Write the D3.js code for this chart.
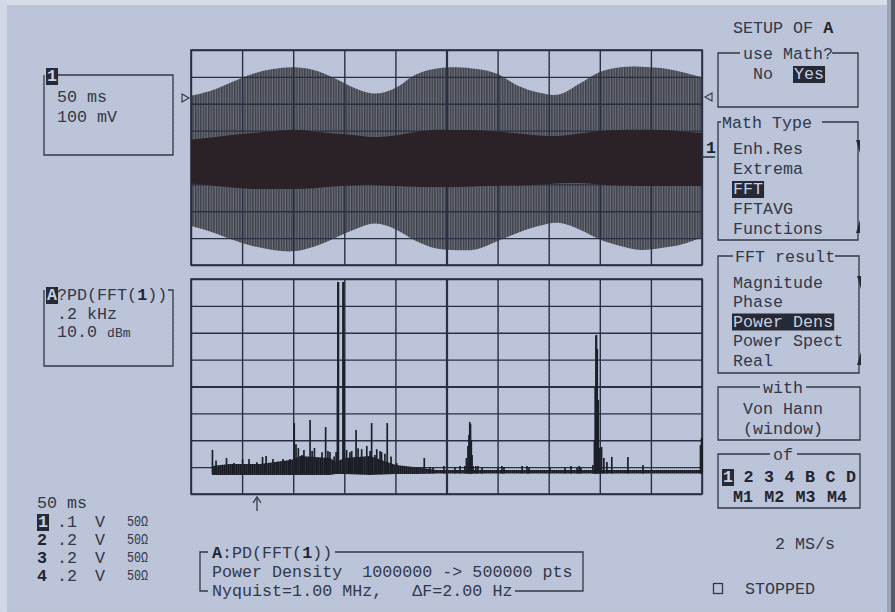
<!DOCTYPE html>
<html>
<head>
<meta charset="utf-8">
<script src="https://cdn.jsdelivr.net/npm/d3@7/dist/d3.min.js"></script>
<style>
html,body{margin:0;padding:0;background:#b9c2d6;}
svg{display:block;}
text{font-family:'Liberation Mono','DejaVu Sans Mono',monospace;white-space:pre;}
</style>
</head>
<body>
<svg id="chart" width="895" height="612"></svg>
<script>
// ---------------- DATA ----------------
// upper trace (channel 1, 50 ms/div, 100 mV/div): envelope of the AM signal
const timeMs      = [0,20,40,60,80,100,120,140,160,180,200,220,240,260,280,300,320,340,360,380,400,420,440,460,480,500];
const envTopMv    = [229,249,281,311,329,336,326,296,259,238,259,309,331,336,329,311,267,242,234,274,318,336,338,333,318,298];
const envBottomMv = [-255,-277,-305,-329,-344,-349,-332,-301,-268,-246,-267,-311,-339,-345,-341,-311,-280,-255,-243,-268,-305,-329,-344,-337,-324,-298];
const coreTopMv   = [66,74,84,91,98,103,97,89,83,76,82,95,103,102,101,97,89,82,80,89,99,102,103,102,97,91];
const coreBottomMv= [-98,-104,-112,-117,-117,-117,-114,-108,-103,-102,-106,-109,-110,-110,-107,-105,-104,-101,-96,-95,-100,-104,-106,-106,-106,-106];

// lower trace: power density of FFT(1) (0.2 kHz/div, 10 dBm/div)
// noise floor band: [frequency Hz, low dBm, high dBm]
const noiseBand = [
 [82,-72.9,-69.6],[150,-72.9,-68.8],[270,-72.9,-68.8],[395,-72.9,-67.3],[427,-72.9,-65.9],[544,-72.9,-66.6],
 [568,-72.6,-68.1],[599,-72.6,-66.6],[701,-72.9,-65.9],[802,-72.6,-69.2],[881,-72.6,-70.0],[963,-72.4,-71.1],[2000,-72.4,-71.1]
];
// spectral lines: [frequency Hz, peak dBm]
const fftPeaks = [
 [84,-63.6],[98,-67.5],[139,-66.6],[168,-68.5],[202,-67.0],[227,-67.0],[258,-68.2],[280,-66.2],[294,-65.9],[321,-67.0],[341,-68.0],[360,-67.0],[387,-67.0],
 [404,-53.6],[411,-61.5],[420,-62.9],[434,-65.5],[442,-63.6],[458,-66.6],[466,-52.5],[474,-64.0],[483,-62.9],[498,-66.6],[513,-64.5],[527,-55.1],[536,-64.0],[544,-64.4],[560,-66.0],[568,-64.4],
 [573,-40.0],[575,-1.1],[577,-1.1],[595,-1.1],[597,-1.1],[599,-30.0],
 [609,-63.6],[622,-64.5],[629,-64.0],[646,-56.2],[654,-63.0],[661,-66.6],[668,-63.3],[688,-62.1],[701,-64.0],[707,-53.6],[720,-65.5],[727,-63.3],[740,-64.0],[746,-64.4],[759,-65.0],[768,-53.6],[783,-66.0],[805,-68.5],[913,-66.6],
 [935,-70.0],[947,-70.0],[990,-69.6],[1033,-70.0],[1053,-69.6],
 [1072,-69.6],[1078,-66.6],[1084,-62.1],[1088,-58.0],[1091,-53.2],[1094,-54.0],[1097,-59.9],[1100,-65.5],[1104,-69.6],
 [1115,-69.6],[1123,-69.6],[1139,-70.0],[1202,-70.0],[1217,-69.6],[1225,-70.0],[1296,-69.6],[1315,-69.6],[1323,-70.0],[1405,-70.0],[1464,-70.0],[1487,-69.6],[1511,-70.0],[1519,-69.6],[1526,-70.0],
 [1573,-69.2],[1579,-59.9],[1582,-40.0],[1585,-21.0],[1587,-20.8],[1590,-26.0],[1594,-45.0],[1599,-62.9],[1607,-62.5],[1616,-66.6],[1628,-68.1],[1647,-66.2],[1710,-66.2],[1769,-69.2],
 [1994,-61.8],[1998,-59.2],[2000,-59.2]
];
const fftBaseDbm = -72.4;

// scale settings / labels
const ch1Scale   = ["50 ms", "100 mV"];
const mathScale  = [".2 kHz", "10.0 "];
const chanIds    = ["1","2","3","4"];
const chanVolts  = [".1",".2",".2",".2"];
const mathTypes  = ["Enh.Res","Extrema","FFT","FFTAVG","Functions"];
const fftResults = ["Magnitude","Phase","Power Dens","Power Spect","Real"];
const sourcesRow1 = ["1","2","3","4","B","C","D"];
const sourcesRow2 = ["M1","M2","M3","M4"];

// ---------------- DRAW ----------------
const BG="#b9c2d6", INK="#323849", GRID="#293044", INV="#262a36", DARK="#222633";
const FS=16.7, CW=FS*0.6;
const svg=d3.select("#chart");
const defs=svg.append("defs");

const hatch=defs.append("pattern").attr("id","hatch").attr("patternUnits","userSpaceOnUse").attr("width",4).attr("height",4);
hatch.append("path").attr("d","M-1,1 l2,-2 M0,4 l4,-4 M3,5 l2,-2").attr("stroke","#c7cedf").attr("stroke-width",0.8).attr("opacity",0.7);
const stripes=defs.append("pattern").attr("id","stripes").attr("patternUnits","userSpaceOnUse").attr("width",2.6).attr("height",10);
stripes.append("rect").attr("width",2.6).attr("height",10).attr("fill","#6d707b");
stripes.append("rect").attr("width",1.4).attr("height",10).attr("fill","#3d3f48");
const hair=defs.append("pattern").attr("id","hair").attr("patternUnits","userSpaceOnUse").attr("width",2).attr("height",10);
hair.append("rect").attr("width",2).attr("height",10).attr("fill","#3a3e4b");
hair.append("rect").attr("width",1.4).attr("height",10).attr("fill","#181b23");

svg.append("rect").attr("width",895).attr("height",612).attr("fill",BG);
svg.append("rect").attr("width",895).attr("height",612).attr("fill","url(#hatch)");
svg.append("rect").attr("width",895).attr("height",5).attr("fill","#d6dce8");
svg.append("rect").attr("width",7).attr("height",612).attr("fill","#d2d8e5");
svg.append("rect").attr("x",887).attr("width",4).attr("height",612).attr("fill","#9ca4b6");
svg.append("rect").attr("x",891).attr("width",4).attr("height",612).attr("fill","#555a69");

function txt(x,y,s,o={}){
  const t=svg.append("text").attr("x",x).attr("y",y).attr("font-size",o.size||FS)
    .attr("font-weight",o.bold?"bold":null).attr("fill",o.fill||INK)
    .attr("text-anchor",o.anchor||"start").text(s);
  if(o.len) t.attr("textLength",o.len).attr("lengthAdjust","spacingAndGlyphs");
  return t;
}
function inv(x,y,s,o={}){
  svg.append("rect").attr("x",x-1).attr("y",y-13).attr("width",s.length*CW+2).attr("height",17).attr("fill",INV);
  return txt(x,y,s,Object.assign({fill:"#c9d0e0"},o));
}
function line(pts,w){
  svg.append("path").attr("d",d3.line()(pts)).attr("fill","none").attr("stroke",INK).attr("stroke-width",w||1.3);
}

// scales
const xT=d3.scaleLinear().domain([0,500]).range([191,702]);
const yV=d3.scaleLinear().domain([-400,400]).range([265,50]);
const xF=d3.scaleLinear().domain([0,2000]).range([191,702]);
const yP=d3.scaleLinear().domain([-80,0]).range([494,279]);

function drawGrid(x,y,xStep,yStep){
  const g=svg.append("g");
  const [y0,y1]=y.range(),[x0,x1]=x.range(),xd=x.domain(),yd=y.domain();
  const xt=d3.range(xd[0],xd[1]+xStep/2,xStep), yt=d3.range(yd[0],yd[1]+yStep/2,yStep);
  const xm=(xd[0]+xd[1])/2, ym=(yd[0]+yd[1])/2;
  g.append("g").attr("transform",`translate(0,${y0})`)
    .call(d3.axisBottom(x).tickValues(xt).tickSize(-(y0-y1)).tickSizeOuter(0).tickFormat(""))
    .call(a=>a.select(".domain").remove())
    .selectAll(".tick line").attr("stroke",GRID).attr("stroke-width",d=>Math.abs(d-xm)<1e-9?2.2:1.4);
  g.append("g").attr("transform",`translate(${x0},0)`)
    .call(d3.axisLeft(y).tickValues(yt).tickSize(-(x1-x0)).tickSizeOuter(0).tickFormat(""))
    .call(a=>a.select(".domain").remove())
    .selectAll(".tick line").attr("stroke",GRID).attr("stroke-width",d=>Math.abs(d-ym)<1e-9?2.2:1.4);
  g.append("rect").attr("x",x0).attr("y",y1).attr("width",x1-x0).attr("height",y0-y1)
    .attr("fill","none").attr("stroke",GRID).attr("stroke-width",1.6);
}

// upper waveform
const env=timeMs.map((t,i)=>({t,hi:envTopMv[i],lo:envBottomMv[i],ch:coreTopMv[i],cl:coreBottomMv[i]}));
svg.append("path").datum(env).attr("fill","url(#stripes)")
  .attr("d",d3.area().curve(d3.curveCatmullRom).x(d=>xT(d.t)).y0(d=>yV(d.lo)).y1(d=>yV(d.hi)));
drawGrid(xT,yV,50,100);
svg.append("path").datum(env).attr("fill","#2a2226")
  .attr("d",d3.area().curve(d3.curveCatmullRom).x(d=>xT(d.t)).y0(d=>yV(d.cl)).y1(d=>yV(d.ch)));

// lower FFT
drawGrid(xF,yP,200,10);
svg.append("path").datum(noiseBand).attr("fill","url(#hair)")
  .attr("d",d3.area().x(d=>xF(d[0])).y0(d=>yP(d[1])).y1(d=>yP(d[2])));
svg.append("g").selectAll("line").data(fftPeaks).join("line")
  .attr("x1",d=>xF(d[0])).attr("x2",d=>xF(d[0]))
  .attr("y1",yP(fftBaseDbm)).attr("y2",d=>yP(d[1]))
  .attr("stroke","#1c2029").attr("stroke-width",1.7);

// markers on the upper grid
svg.append("path").attr("d","M182,94 L182,102 L189,98 Z").attr("fill","none").attr("stroke",INK).attr("stroke-width",1.1);
svg.append("path").attr("d","M712,93 L712,101 L705,97 Z").attr("fill","none").attr("stroke",INK).attr("stroke-width",1.1);
txt(706,153,"1",{bold:true,fill:DARK});
line([[702,157],[715,157]],1.6);
// arrow under lower grid
line([[257,511],[257,498]],1.3);
line([[253,503],[257,497],[261,503]],1.3);

// left box 1
line([[44,75],[44,155],[173,155],[173,75],[58,75]],1.3);
inv(47,81,"1",{bold:true});
txt(57,102,ch1Scale[0]); txt(57,122,ch1Scale[1]);

// left box 2
line([[44,290],[44,366],[173,366],[173,290],[168,290]],1.3);
inv(47,300,"A",{bold:true});
txt(47+CW,300,"?PD(FFT(");
txt(47+9*CW,300,"1",{bold:true,fill:DARK});
txt(47+10*CW,300,"))");
txt(57,318.5,mathScale[0]);
const t2=txt(57,337,mathScale[1]); t2.append("tspan").attr("font-size",13).text("dBm");

// bottom-left channel list
txt(37,508,"50 ms");
chanIds.forEach((c,i)=>{
  const y=527+i*18;
  if(i===0) inv(38,y,c,{bold:true}); else txt(37,y,c,{bold:true,fill:DARK});
  txt(57,y,chanVolts[i]);
  txt(95,y,"V");
  txt(127,y-1,"50Ω",{size:14,len:21});
});

// bottom math box
line([[208,552],[200,552],[200,591],[208,591]],1.3);
line([[335,552],[583,552],[583,591],[515,591]],1.3);
txt(212,558,"A",{bold:true,fill:DARK});
txt(212+CW,558,":PD(FFT(");
txt(212+9*CW,558,"1",{bold:true,fill:DARK});
txt(212+10*CW,558,"))");
txt(212,577,"Power Density  1000000 -> 500000 pts");
txt(212,596,"Nyquist=1.00 MHz,   ΔF=2.00 Hz");

// right panel
txt(733,33,"SETUP OF ");
txt(733+9*CW,33,"A",{bold:true,fill:DARK});

function box(x1,y1,x2,y2,gap){
  line([[gap[0],y1],[x1,y1],[x1,y2],[x2,y2],[x2,y1],[gap[1],y1]],1.3);
}
box(718,53,858,107,[740,832]);
txt(743,59,"use Math?");
txt(753,79,"No");
inv(794,79,"Yes");
box(718,122,858,240,[721,822]);
txt(722,127.5,"Math Type");
mathTypes.forEach((m,i)=>{ const y=154+i*20; if(m==="FFT") inv(733,y,m); else txt(733,y,m); });
svg.append("path").attr("d","M856,140 L860,140 L860,153 Z").attr("fill",INV);
svg.append("path").attr("d","M856,233 L860,233 L860,220 Z").attr("fill",INV);
box(718,256,859,373,[733,835]);
txt(735,261.5,"FFT result");
fftResults.forEach((m,i)=>{ const y=287.5+i*19.5; if(m==="Power Dens") inv(733,y,m); else txt(733,y,m); });
svg.append("path").attr("d","M857,276 L861,276 L861,289 Z").attr("fill",INV);
svg.append("path").attr("d","M857,365 L861,365 L861,352 Z").attr("fill",INV);
box(718,387,860,440,[760,806]);
txt(783,392.5,"with",{anchor:"middle"});
txt(783,414,"Von Hann",{anchor:"middle"});
txt(783,434,"(window)",{anchor:"middle"});
box(718,454,860,508,[770,797]);
txt(783,459.5,"of",{anchor:"middle"});
sourcesRow1.forEach((s,i)=>{ const x=723+i*20.5; if(i===0) inv(x,482,s,{bold:true}); else txt(x,482,s,{bold:true,fill:DARK}); });
sourcesRow2.forEach((s,i)=>{ txt(733+i*31.3,502,s,{bold:true,fill:DARK}); });
txt(775,549,"2 MS/s");
svg.append("rect").attr("x",713.5).attr("y",583.5).attr("width",9).attr("height",10).attr("fill","none").attr("stroke",INK).attr("stroke-width",1.3);
txt(745,594,"STOPPED");
</script>
</body>
</html>
